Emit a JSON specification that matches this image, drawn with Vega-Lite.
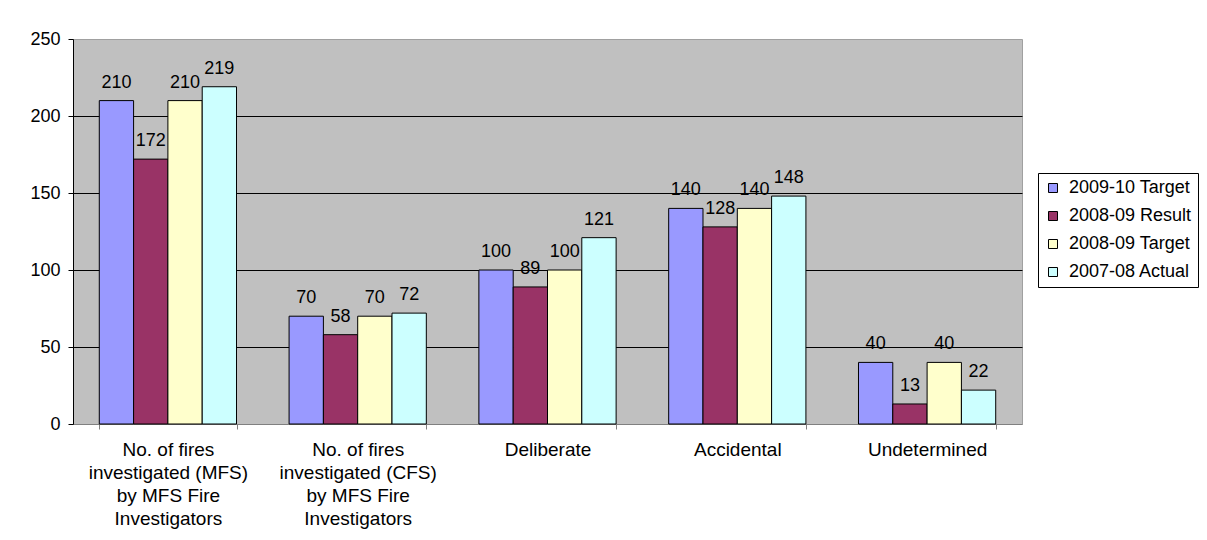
{
  "$schema": "https://vega.github.io/schema/vega-lite/v6.json",
  "width": 949,
  "height": 385,
  "autosize": {"type": "none"},
  "padding": {"left": 73, "top": 39, "right": 185, "bottom": 116},
  "background": "white",
  "config": {
    "font": "Liberation Sans",
    "view": {"fill": "#C0C0C0", "stroke": "#A0A0A0", "strokeWidth": 1}
  },
  "data": {
    "values": [
      {"category": "No. of fires investigated (MFS) by MFS Fire Investigators", "series": "2009-10 Target", "value": 210},
      {"category": "No. of fires investigated (MFS) by MFS Fire Investigators", "series": "2008-09 Result", "value": 172},
      {"category": "No. of fires investigated (MFS) by MFS Fire Investigators", "series": "2008-09 Target", "value": 210},
      {"category": "No. of fires investigated (MFS) by MFS Fire Investigators", "series": "2007-08 Actual", "value": 219},
      {"category": "No. of fires investigated (CFS) by MFS Fire Investigators", "series": "2009-10 Target", "value": 70},
      {"category": "No. of fires investigated (CFS) by MFS Fire Investigators", "series": "2008-09 Result", "value": 58},
      {"category": "No. of fires investigated (CFS) by MFS Fire Investigators", "series": "2008-09 Target", "value": 70},
      {"category": "No. of fires investigated (CFS) by MFS Fire Investigators", "series": "2007-08 Actual", "value": 72},
      {"category": "Deliberate", "series": "2009-10 Target", "value": 100},
      {"category": "Deliberate", "series": "2008-09 Result", "value": 89},
      {"category": "Deliberate", "series": "2008-09 Target", "value": 100},
      {"category": "Deliberate", "series": "2007-08 Actual", "value": 121},
      {"category": "Accidental", "series": "2009-10 Target", "value": 140},
      {"category": "Accidental", "series": "2008-09 Result", "value": 128},
      {"category": "Accidental", "series": "2008-09 Target", "value": 140},
      {"category": "Accidental", "series": "2007-08 Actual", "value": 148},
      {"category": "Undetermined", "series": "2009-10 Target", "value": 40},
      {"category": "Undetermined", "series": "2008-09 Result", "value": 13},
      {"category": "Undetermined", "series": "2008-09 Target", "value": 40},
      {"category": "Undetermined", "series": "2007-08 Actual", "value": 22}
    ]
  },
  "encoding": {
    "x": {
      "field": "category",
      "type": "nominal",
      "sort": null,
      "scale": {"paddingInner": 0.277, "paddingOuter": 0.1385},
      "axis": {
        "title": null,
        "labelAngle": 0,
        "labelFontSize": 19,
        "labelColor": "black",
        "labelLineHeight": 23,
        "labelLimit": 400,
        "labelPadding": 11,
        "labelBaseline": "top",
        "domainColor": "#808080",
        "tickColor": "#808080",
        "tickSize": 5,
        "tickBand": "extent",
        "labelExpr": "datum.value == 'No. of fires investigated (MFS) by MFS Fire Investigators' ? ['No. of fires', 'investigated (MFS)', 'by MFS Fire', 'Investigators'] : datum.value == 'No. of fires investigated (CFS) by MFS Fire Investigators' ? ['No. of fires', 'investigated (CFS)', 'by MFS Fire', 'Investigators'] : datum.label"
      }
    },
    "xOffset": {
      "field": "series",
      "type": "nominal",
      "sort": ["2009-10 Target", "2008-09 Result", "2008-09 Target", "2007-08 Actual"],
      "scale": {"paddingInner": 0, "paddingOuter": 0}
    },
    "y": {
      "field": "value",
      "type": "quantitative",
      "scale": {"domain": [0, 250], "nice": false},
      "axis": {
        "title": null,
        "values": [0, 50, 100, 150, 200, 250],
        "labelFontSize": 18,
        "labelColor": "black",
        "labelPadding": 8,
        "domainColor": "black",
        "tickColor": "black",
        "tickSize": 5,
        "grid": true,
        "gridColor": {"condition": {"test": "datum.value === 0 || datum.value === 250", "value": "transparent"}, "value": "black"},
        "gridWidth": 1
      }
    }
  },
  "layer": [
    {
      "mark": {"type": "bar", "stroke": "black", "strokeWidth": 1},
      "encoding": {
        "color": {
          "field": "series",
          "type": "nominal",
          "scale": {
            "domain": ["2009-10 Target", "2008-09 Result", "2008-09 Target", "2007-08 Actual"],
            "range": ["#9999FF", "#993366", "#FFFFCC", "#CCFFFF"]
          },
          "legend": {
            "title": null,
            "orient": "none",
            "legendX": 965,
            "legendY": 134,
            "strokeColor": "black",
            "fillColor": "white",
            "padding": 6,
            "rowPadding": 10,
            "symbolType": "square",
            "symbolSize": 81,
            "symbolStrokeColor": "black",
            "symbolStrokeWidth": 1,
            "symbolOpacity": 1,
            "labelFontSize": 18,
            "labelColor": "black",
            "labelOffset": 7,
            "labelLimit": 300
          }
        }
      }
    },
    {
      "mark": {"type": "text", "baseline": "alphabetic", "dy": -13, "fontSize": 18, "color": "black"},
      "encoding": {
        "text": {"field": "value", "type": "quantitative"}
      }
    }
  ]
}
